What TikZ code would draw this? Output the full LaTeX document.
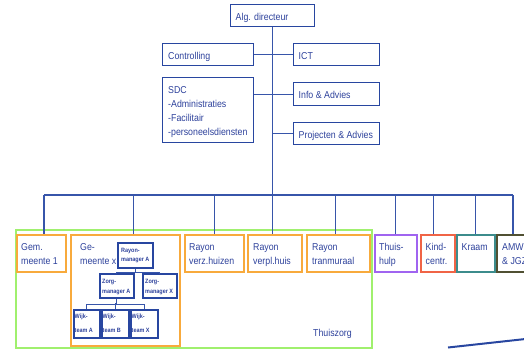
\documentclass[tikz,border=0pt]{standalone}
\usepackage{fontspec}
\setmainfont{Liberation Sans}[FakeStretch=0.88]
\definecolor{textblue}{RGB}{45,65,155}
\definecolor{boxblue}{RGB}{40,70,160}
\definecolor{lineblue}{RGB}{55,85,170}
\definecolor{tzgreen}{RGB}{160,240,110}
\definecolor{tzorange}{RGB}{248,170,60}
\definecolor{hpurple}{RGB}{160,100,240}
\definecolor{kred}{RGB}{240,100,70}
\definecolor{kteal}{RGB}{60,140,140}
\definecolor{aolive}{RGB}{80,80,50}
\newcommand{\lnup}{\rule{0pt}{10pt}}
\newcommand{\lnsm}{\rule{0pt}{6pt}}
\tikzset{
  box/.style={draw=boxblue,line width=1.3pt,anchor=north west,inner sep=0pt},
  obox/.style={box,draw=tzorange,line width=1.5pt},
  lbl/.style={anchor=north west,inner sep=0pt,align=left,text=textblue,
    font=\fontsize{10}{14}\selectfont},
  slbl/.style={lbl,font=\fontsize{6.2}{9.5}\selectfont\bfseries},
  link/.style={draw=lineblue,line width=1.1pt}
}
\begin{document}
\begin{tikzpicture}[x=1pt,y=-1pt]
\useasboundingbox (0,0) rectangle (524,348);
% top: director and staff
\node[box,minimum width=84,minimum height=22] (dir) at (230,4) {};
\node[lbl] (dirt) at ([shift={(5.5,6.7)}]dir.north west) {\lnup Alg. directeur};
\node[box,minimum width=91,minimum height=22] (ctrl) at (162,43) {};
\node[lbl] (ctrlt) at ([shift={(6,6.7)}]ctrl.north west) {\lnup Controlling};
\node[box,minimum width=86,minimum height=22] (ict) at (293,43) {};
\node[lbl] (ictt) at ([shift={(5.5,6.7)}]ict.north west) {\lnup ICT};
\node[box,minimum width=91,minimum height=65] (sdc) at (162,77) {};
\node[lbl] (sdct) at ([shift={(6,6.7)}]sdc.north west) {\lnup SDC\\-Administraties\\-Facilitair\\-personeelsdiensten};
\node[box,minimum width=86,minimum height=23] (info) at (293,82) {};
\node[lbl] (infot) at ([shift={(5.5,6.7)}]info.north west) {\lnup Info \& Advies};
\node[box,minimum width=86,minimum height=22] (proj) at (293,122) {};
\node[lbl] (projt) at ([shift={(5.5,6.7)}]proj.north west) {\lnup Projecten \& Advies};
\draw[link] (ctrl.east) -- (ict.west);
\draw[link] (info.west -| sdc.east) -- (info.west);
\draw[link] (proj.west -| dir.south) -- (proj.west);
% bus
\coordinate (busL) at (44,195);
\coordinate (busR) at (513,195);
\draw[link] (dir.south) -- (dir.south |- busL);
\draw[link] (busL) -- (busR);
% Thuiszorg
\node[box,draw=tzgreen,line width=1.5pt,minimum width=356,minimum height=118] (tz) at (15,229) {};
\node[lbl,anchor=center] (tzt) at ([shift={(-40,-15)}]tz.south east) {Thuiszorg};
\node[obox,minimum width=49,minimum height=37] (gem1) at (16,234) {};
\node[lbl] (gem1t) at ([shift={(5,6.7)}]gem1.north west) {\lnup Gem.\\meente 1};
\node[obox,minimum width=109,minimum height=111] (gemx) at (70,234) {};
\node[lbl] (gemxt) at ([shift={(10,6.7)}]gemx.north west) {\lnup Ge-\\meente x};
\node[obox,minimum width=59,minimum height=37] (rvz) at (184,234) {};
\node[lbl] (rvzt) at ([shift={(5,6.7)}]rvz.north west) {\lnup Rayon\\verz.huizen};
\node[obox,minimum width=54,minimum height=37] (rvp) at (247,234) {};
\node[lbl] (rvpt) at ([shift={(6,6.7)}]rvp.north west) {\lnup Rayon\\verpl.huis};
\node[obox,minimum width=63,minimum height=37] (rtm) at (306,234) {};
\node[lbl] (rtmt) at ([shift={(6,6.7)}]rtm.north west) {\lnup Rayon\\tranmuraal};
% other units
\node[box,draw=hpurple,line width=1.5pt,minimum width=42,minimum height=37] (thuis) at (374,234) {};
\node[lbl] (thuist) at ([shift={(5,6.7)}]thuis.north west) {\lnup Thuis-\\hulp};
\node[box,draw=kred,line width=1.5pt,minimum width=34,minimum height=37] (kind) at (420,234) {};
\node[lbl] (kindt) at ([shift={(5.5,6.7)}]kind.north west) {\lnup Kind-\\centr.};
\node[box,draw=kteal,line width=1.5pt,minimum width=38,minimum height=37] (kraam) at (456,234) {};
\node[lbl] (kraamt) at ([shift={(5.5,6.7)}]kraam.north west) {\lnup Kraam};
\node[box,draw=aolive,line width=1.5pt,minimum width=36,minimum height=37] (amw) at (496,234) {};
\node[lbl] (amwt) at ([shift={(6,6.7)}]amw.north west) {\lnup AMW\\\& JGZ};
\draw[link] (busL) -- (busL |- gem1.north);
\draw[link] ([xshift=8.5pt]gemx.north) -- ([xshift=8.5pt]gemx.north |- busL);
\draw[link] (rvz.north) -- (rvz.north |- busL);
\draw[link] ([xshift=-2pt]rvp.north) -- ([xshift=-2pt]rvp.north |- busL);
\draw[link] ([xshift=-2.5pt]rtm.north) -- ([xshift=-2.5pt]rtm.north |- busL);
\draw[link] (thuis.north) -- (thuis.north |- busL);
\draw[link] ([xshift=-4pt]kind.north) -- ([xshift=-4pt]kind.north |- busL);
\draw[link] (kraam.north) -- (kraam.north |- busL);
\draw[link] (busR) -- (busR |- amw.north);
% inside Gemeente x
\node[box,line width=1.5pt,minimum width=35,minimum height=25] (rm) at (117,242) {};
\node[slbl] (rmt) at ([shift={(4,4)}]rm.north west) {\lnsm Rayon-\\manager A};
\node[box,line width=1.5pt,minimum width=34,minimum height=24] (zma) at (99,273) {};
\node[slbl] (zmat) at ([shift={(3,4.5)}]zma.north west) {\lnsm Zorg-\\manager A};
\node[box,line width=1.5pt,minimum width=34,minimum height=24] (zmx) at (142,273) {};
\node[slbl] (zmxt) at ([shift={(3,4.5)}]zmx.north west) {\lnsm Zorg-\\manager X};
\node[box,line width=1.5pt,minimum width=26,minimum height=28] (wa) at (73,309) {};
\node[slbl] (wat) at ([shift={(1.5,3.5)}]wa.north west) {\lnsm Wijk-\\[4pt]team A};
\node[box,line width=1.5pt,minimum width=27,minimum height=28] (wb) at (101,309) {};
\node[slbl] (wbt) at ([shift={(1.5,3.5)}]wb.north west) {\lnsm Wijk-\\[4pt]team B};
\node[box,line width=1.5pt,minimum width=27,minimum height=28] (wx) at (130,309) {};
\node[slbl] (wxt) at ([shift={(1.5,3.5)}]wx.north west) {\lnsm Wijk-\\[4pt]team X};
\draw[link] (rm.south) -- ([yshift=-4pt]rm.south);
\draw[link] (zma.north) |- ([yshift=-4pt]rm.south) -| (zmx.north);
\draw[link] (zma.south) -- ([yshift=-6pt]zma.south);
\draw[link] (wa.north) |- ([yshift=-6pt]zma.south) -| (wx.north);
\draw[link] (wb.north) -- ++(0,-6);
% stroke at the bottom edge
\draw[draw=boxblue,line width=2pt] (448,347.5) -- (530,338.5);
\end{tikzpicture}
\end{document}
